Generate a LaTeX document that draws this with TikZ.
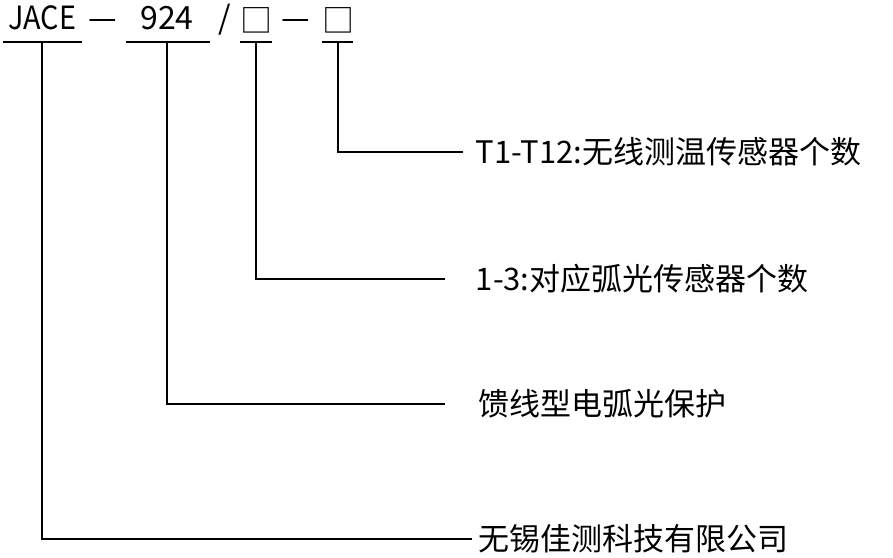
\documentclass[tikz,border=0pt]{standalone}
\usepackage{fontspec}
\setmainfont{Noto Sans CJK SC}
\begin{document}
\begin{tikzpicture}[x=1pt,y=-1pt,line width=1.6pt,
  lbl/.style={anchor=west,inner sep=0pt,font=\fontsize{31}{31}\selectfont},
  ttl/.style={anchor=base,inner sep=0pt,font=\fontsize{32}{32}\selectfont}]
\useasboundingbox (0,0) rectangle (893,557);
\node[ttl,xscale=0.9] (t1) at (42,29) {JACE};
\node[ttl] (t2) at (103,29) {—};
\node[ttl] (t3) at (167,29) {924};
\node[ttl] (t4) at (225,29) {/};
\node[ttl] (t5) at (256,32) {□};
\node[ttl] (t6) at (296,29) {—};
\node[ttl] (t7) at (338,32) {□};
\draw (3,42) -- (82,42); \draw (126,42) -- (210,42);
\draw (240,42) -- (272,42); \draw (322,42) -- (353,42);
\node[lbl] (a) at (475,152) {T1-T12:无线测温传感器个数};
\node[lbl] (b) at (475,279) {1-3:对应弧光传感器个数};
\node[lbl] (c) at (478,404) {馈线型电弧光保护};
\node[lbl] (d) at (478,539) {无锡佳测科技有限公司};
\draw (338,42) |- ([xshift=-12pt]a.west);
\draw (256,42) |- ([xshift=-30pt]b.west);
\draw (167,42) |- ([xshift=-33pt]c.west);
\draw (42,42) |- ([xshift=-6pt]d.west);
\end{tikzpicture}
\end{document}
